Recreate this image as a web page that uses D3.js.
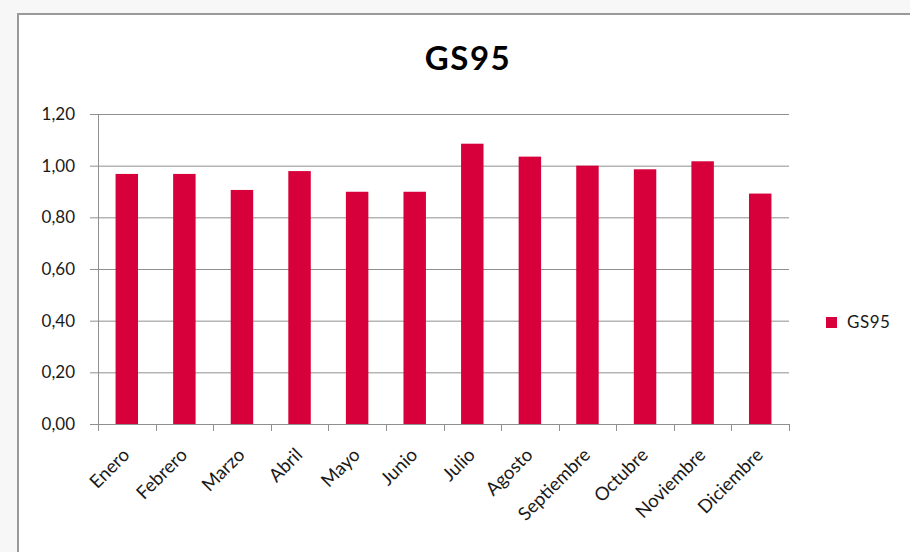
<!DOCTYPE html>
<html>
<head>
<meta charset="utf-8">
<script src="https://cdn.jsdelivr.net/npm/d3@7"></script>
<style>
  body { margin: 0; background: #f7f7f7; }
  svg { display: block; font-family: Lato, "Open Sans", sans-serif; }
</style>
</head>
<body>
<script>
const width = 910,
  height = 552,
  marginTop = 114,
  marginRight = 121,
  marginBottom = 128,
  marginLeft = 98;

const months = ["Enero", "Febrero", "Marzo", "Abril", "Mayo", "Junio",
  "Julio", "Agosto", "Septiembre", "Octubre", "Noviembre", "Diciembre"];
const gs95 = [0.968, 0.968, 0.906, 0.979, 0.899, 0.899,
  1.085, 1.035, 1.0, 0.986, 1.017, 0.892];
const yTicks = [0, 0.2, 0.4, 0.6, 0.8, 1.0, 1.2];
const seriesName = "GS95";

const barColor = "#d8003a";
const gridColor = "#8f8f8f";
const textColor = "#1a1a1a";

const svg = d3.select("body").append("svg")
  .attr("width", width)
  .attr("height", height);

// chart area with border
svg.append("rect")
  .attr("x", 18).attr("y", 14)
  .attr("width", 1000).attr("height", 600)
  .attr("fill", "#fff")
  .attr("stroke", "#9a9a9a")
  .attr("stroke-width", 2);

const xCat = d3.scaleBand()
  .domain(months)
  .range([marginLeft, width - marginRight]);

const x = d3.scaleBand()
  .domain(months)
  .range([marginLeft, width - marginRight])
  .paddingInner(0.61)
  .paddingOuter(0.305);

const y = d3.scaleLinear()
  .domain([0, 1.2])
  .range([height - marginBottom, marginTop]);

// title
svg.append("text")
  .attr("x", 468).attr("y", 70)
  .attr("text-anchor", "middle")
  .attr("font-size", 33)
  .attr("font-weight", "bold")
  .attr("letter-spacing", 1.5)
  .attr("fill", "#000")
  .text(seriesName);

// y axis + gridlines
const yAxis = svg.append("g")
  .attr("transform", `translate(${marginLeft},0)`)
  .call(d3.axisLeft(y)
    .tickValues(yTicks)
    .tickSize(-(width - marginRight - marginLeft))
    .tickPadding(23)
    .tickFormat(d => d3.format(".2f")(d).replace(".", ",")));
yAxis.select(".domain").remove();
yAxis.selectAll(".tick line")
  .attr("x1", -8)
  .attr("stroke", gridColor);
yAxis.selectAll(".tick text")
  .attr("font-size", 17)
  .attr("font-family", "Lato, sans-serif")
  .attr("fill", textColor);

svg.append("line")
  .attr("x1", marginLeft + 0.5).attr("x2", marginLeft + 0.5)
  .attr("y1", marginTop).attr("y2", height - marginBottom)
  .attr("stroke", gridColor);

// bars
svg.append("g")
  .selectAll("rect")
  .data(months)
  .join("rect")
  .attr("x", d => x(d))
  .attr("y", (d, i) => y(gs95[i]))
  .attr("width", x.bandwidth())
  .attr("height", (d, i) => y(0) - y(gs95[i]))
  .attr("fill", barColor);

// x axis
const xAxis = svg.append("g")
  .attr("transform", `translate(0,${height - marginBottom})`);
xAxis.append("line")
  .attr("x1", marginLeft).attr("x2", width - marginRight)
  .attr("y1", 0.5).attr("y2", 0.5)
  .attr("stroke", gridColor);
xAxis.selectAll("line.tick")
  .data([...months.map(m => xCat(m)), width - marginRight])
  .join("line")
  .attr("class", "tick")
  .attr("x1", d => Math.round(d) + 0.5).attr("x2", d => Math.round(d) + 0.5)
  .attr("y1", 0).attr("y2", 7)
  .attr("stroke", gridColor);
xAxis.selectAll("text")
  .data(months)
  .join("text")
  .attr("transform", d => `translate(${xCat(d) + xCat.bandwidth() / 2 + 4},${32}) rotate(-45)`)
  .attr("text-anchor", "end")
  .attr("font-size", 18.5)
  .attr("fill", textColor)
  .text(d => d);

// legend
const legend = svg.append("g").attr("transform", "translate(826,317)");
legend.append("rect")
  .attr("width", 11).attr("height", 11)
  .attr("fill", barColor);
legend.append("text")
  .attr("x", 21).attr("y", 11)
  .attr("font-size", 17)
  .attr("letter-spacing", 0.5)
  .attr("fill", textColor)
  .text(seriesName);
</script>
</body>
</html>
